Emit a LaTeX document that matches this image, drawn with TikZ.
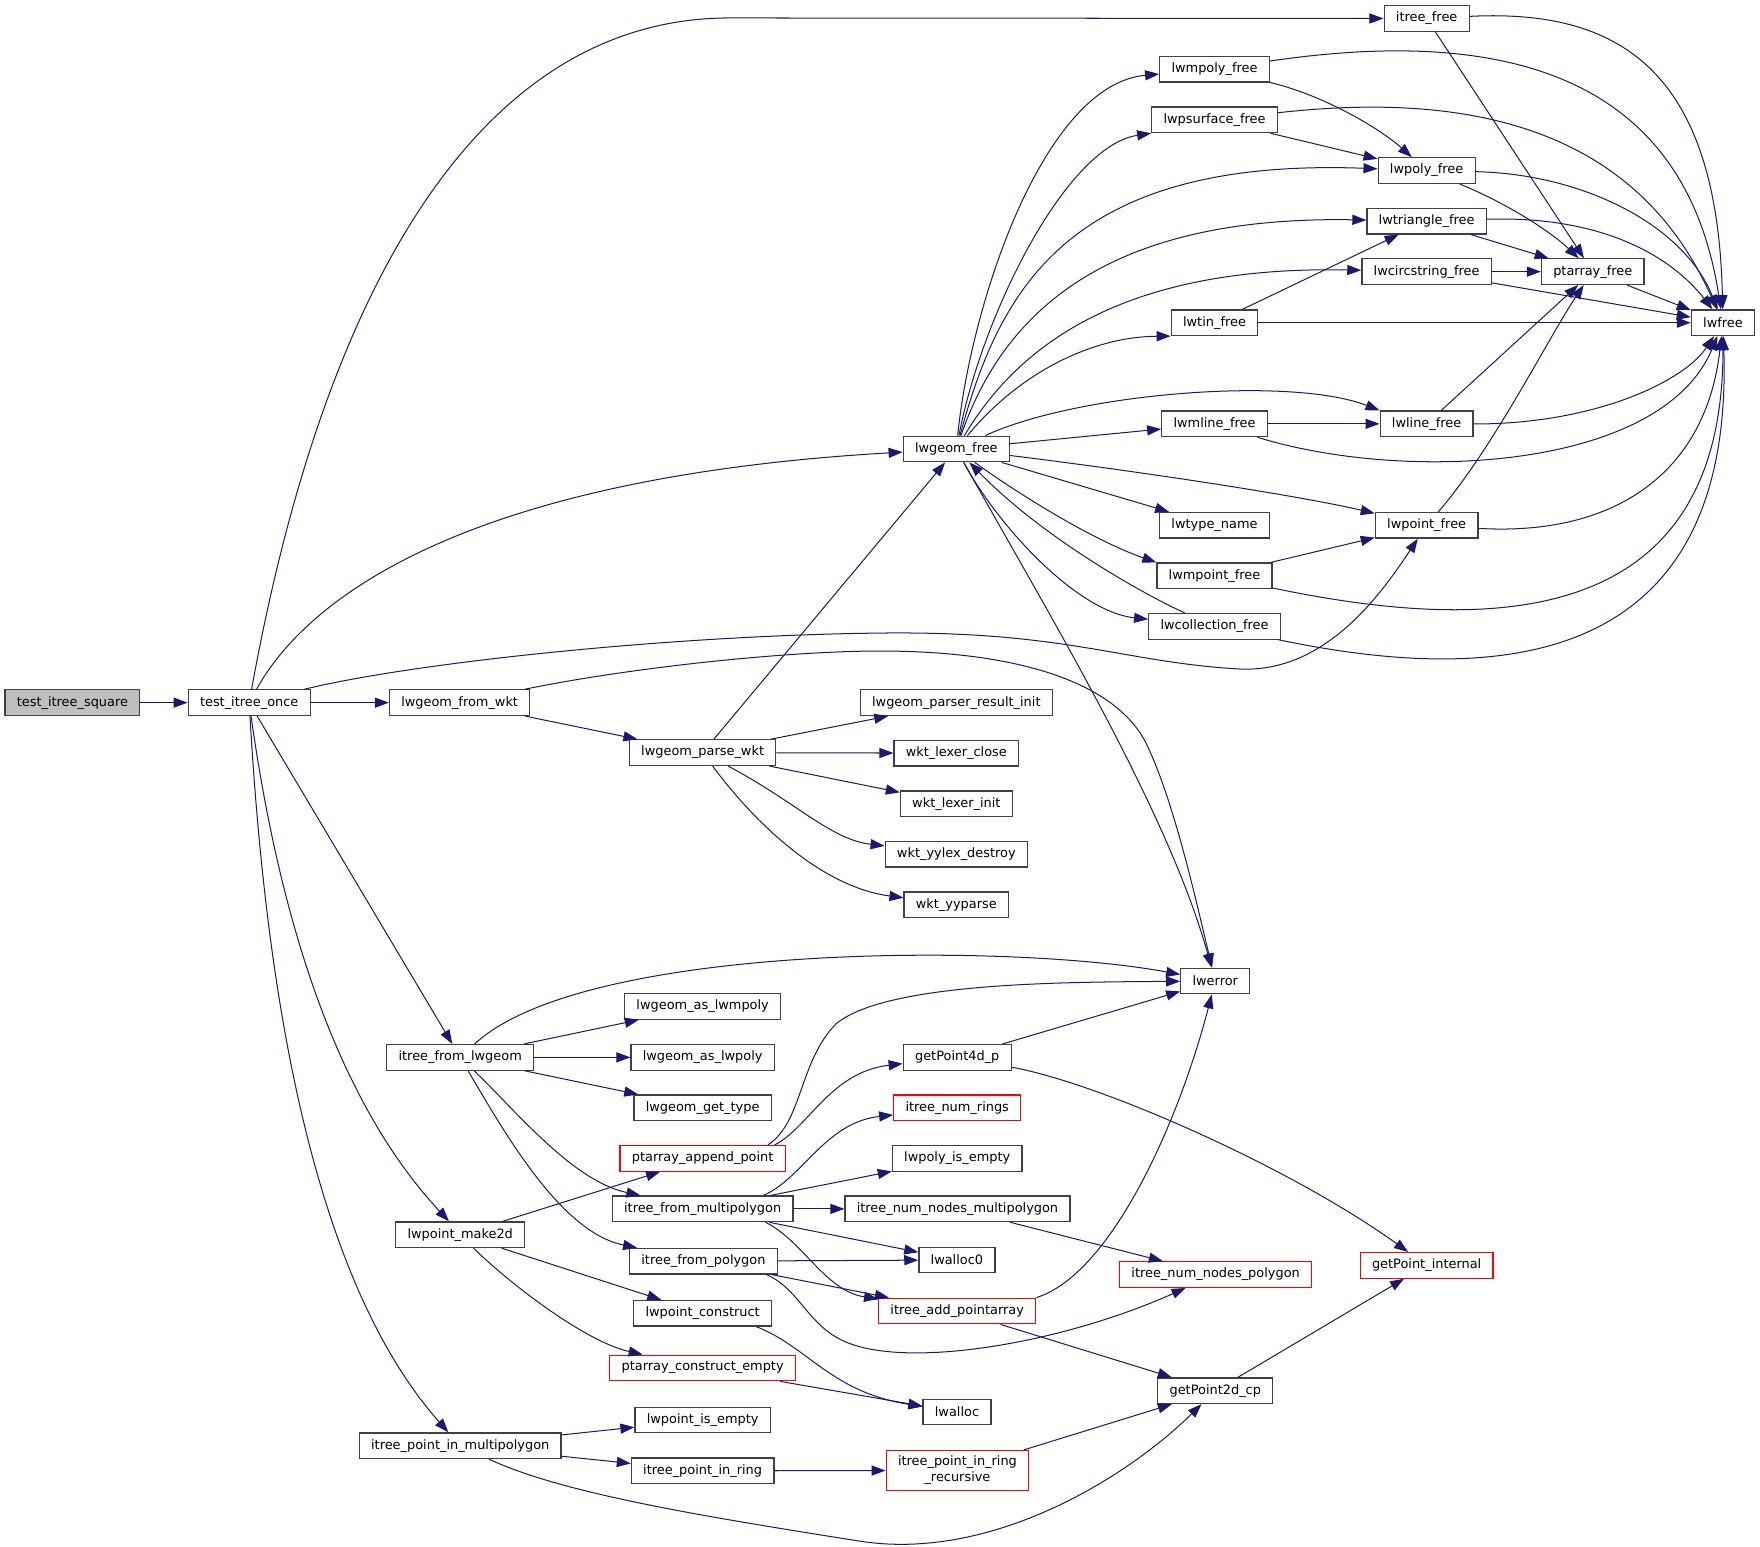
\documentclass[tikz,border=0pt]{standalone}
\usepackage{fontspec}
\setmainfont{DejaVu Sans}
\usetikzlibrary{arrows.meta}
\definecolor{edgeblue}{HTML}{191970}
\definecolor{rootgray}{HTML}{BFBFBF}
\definecolor{framegray}{HTML}{404040}
\begin{document}
\begin{tikzpicture}[x=1pt, y=-1pt,
  box/.style={draw=framegray, line width=1.1pt, fill=white, minimum height=22.8pt, inner xsep=10.5pt, inner ysep=0pt, font=\fontsize{11.5}{14}\selectfont},
  redbox/.style={box, draw=red},
  edge/.style={edgeblue, line width=0.9pt, -{Triangle[length=12.5pt, width=9pt]}}]
\useasboundingbox (0,0) rectangle (1568,1378);

\node[box, fill=rootgray] (square) at (64.5,626) {test\_itree\_square};
\node[box] (once) at (222,626) {test\_itree\_once};
\node[box] (fromwkt) at (409.5,626) {lwgeom\_from\_wkt};
\node[box] (parsewkt) at (626,670.5) {lwgeom\_parse\_wkt};
\node[box] (resultinit) at (852,626) {lwgeom\_parser\_result\_init};
\node[box] (lexerclose) at (852,671) {wkt\_lexer\_close};
\node[box] (lexerinit) at (852,716) {wkt\_lexer\_init};
\node[box] (yylexdestroy) at (852,761) {wkt\_yylex\_destroy};
\node[box] (yyparse) at (852,806) {wkt\_yyparse};

\node[box] (itreefree) at (1271,16.5) {itree\_free};
\node[box] (lwmpolyfree) at (1082,61.7) {lwmpoly\_free};
\node[box] (lwpsurfacefree) at (1082,106.8) {lwpsurface\_free};
\node[box] (lwpolyfree) at (1271,152) {lwpoly\_free};
\node[box] (lwtrianglefree) at (1271,197) {lwtriangle\_free};
\node[box] (lwcircstringfree) at (1271,242) {lwcircstring\_free};
\node[box] (ptarrayfree) at (1419,242) {ptarray\_free};
\node[box] (lwtinfree) at (1082,287.5) {lwtin\_free};
\node[box] (lwfree) at (1535,287.5) {lwfree};
\node[box] (lwmlinefree) at (1082,377.6) {lwmline\_free};
\node[box] (lwlinefree) at (1271,377.6) {lwline\_free};
\node[box] (lwgeomfree) at (852,400) {lwgeom\_free};
\node[box] (lwtypename) at (1082,468) {lwtype\_name};
\node[box] (lwpointfree) at (1271,468) {lwpoint\_free};
\node[box] (lwmpointfree) at (1082,513) {lwmpoint\_free};
\node[box] (lwcollectionfree) at (1082,558) {lwcollection\_free};

\node[box] (lwerror) at (1082.7,874) {lwerror};
\node[box] (fromlwgeom) at (410,942) {itree\_from\_lwgeom};
\node[box] (aslwmpoly) at (626,896.6) {lwgeom\_as\_lwmpoly};
\node[box] (aslwpoly) at (626,942) {lwgeom\_as\_lwpoly};
\node[box] (gettype) at (626,987) {lwgeom\_get\_type};
\node[box] (getpoint4d) at (852.8,942) {getPoint4d\_p};
\node[redbox] (numrings) at (852.8,987) {itree\_num\_rings};
\node[redbox] (appendpoint) at (626,1032) {ptarray\_append\_point};
\node[box] (polyisempty) at (852.8,1032) {lwpoly\_is\_empty};
\node[box] (frommulti) at (626,1077) {itree\_from\_multipolygon};
\node[box] (nodesmulti) at (853,1077) {itree\_num\_nodes\_multipolygon};
\node[box] (make2d) at (410,1100) {lwpoint\_make2d};
\node[box] (frompolygon) at (626.7,1123.6) {itree\_from\_polygon};
\node[box] (lwallocz) at (852.5,1122.5) {lwalloc0};
\node[redbox] (nodespolygon) at (1083,1135.5) {itree\_num\_nodes\_polygon};
\node[redbox] (getpointinternal) at (1271,1127.3) {getPoint\_internal};
\node[redbox] (addpointarray) at (852.8,1168) {itree\_add\_pointarray};
\node[box] (pointconstruct) at (626,1170) {lwpoint\_construct};
\node[redbox] (constructempty) at (626,1218.7) {ptarray\_construct\_empty};
\node[box] (getpoint2d) at (1082.7,1239) {getPoint2d\_cp};
\node[box] (lwalloc) at (852.6,1258) {lwalloc};
\node[box] (pointisempty) at (626,1265) {lwpoint\_is\_empty};
\node[box] (inmulti) at (410,1288) {itree\_point\_in\_multipolygon};
\node[box] (inring) at (626,1310.4) {itree\_point\_in\_ring};
\node[redbox, align=center, inner ysep=5pt] (inringrec) at (853,1310) {itree\_point\_in\_ring\\\_recursive};

\draw[edge] (square) -- (once);
\draw[edge] (once) .. controls (290,250) and (430,16) .. (650,16) -- (itreefree);
\draw[edge] (once) .. controls (275,530) and (420,425) .. (lwgeomfree);
\draw[edge] (once) -- (fromwkt);
\draw[edge] (once) .. controls (370,590) and (600,566) .. (784,564) .. controls (950,562) and (1000,590) .. (1104,596) .. controls (1180,600) and (1230,530) .. (lwpointfree);
\draw[edge] (once) -- (fromlwgeom);
\draw[edge] (once) .. controls (245,790) and (290,970) .. ([xshift=-10pt]make2d.north);
\draw[edge] (once) .. controls (235,850) and (270,1130) .. (inmulti);

\draw[edge] (fromwkt) -- (parsewkt);
\draw[edge] (fromwkt) .. controls (560,595) and (700,580) .. (784,580) .. controls (900,580) and (990,605) .. (1020,660) .. controls (1045,710) and (1065,800) .. (lwerror);
\draw[edge] (parsewkt) -- (lwgeomfree);
\draw[edge] (parsewkt) -- (resultinit);
\draw[edge] (parsewkt) -- (lexerclose);
\draw[edge] (parsewkt) -- (lexerinit);
\draw[edge] (parsewkt) .. controls (710,715) and (740,748) .. (yylexdestroy);
\draw[edge] (parsewkt) .. controls (670,730) and (730,790) .. (yyparse);

\draw[edge] (lwgeomfree) .. controls (865,270) and (930,75) .. (lwmpolyfree);
\draw[edge] (lwgeomfree) .. controls (875,280) and (950,130) .. (lwpsurfacefree.south west);
\draw[edge] (lwgeomfree) .. controls (890,260) and (950,140) .. (lwpolyfree);
\draw[edge] (lwgeomfree) .. controls (895,275) and (990,192) .. (lwtrianglefree);
\draw[edge] (lwgeomfree) .. controls (900,320) and (985,236) .. (lwcircstringfree);
\draw[edge] (lwgeomfree) .. controls (910,330) and (975,300) .. (lwtinfree.south west);
\draw[edge] (lwgeomfree) .. controls (960,350) and (1150,335) .. (lwlinefree.north west);
\draw[edge] (lwgeomfree) -- (lwmlinefree);
\draw[edge] (lwgeomfree) .. controls (1000,418) and (1150,440) .. (lwpointfree);
\draw[edge] (lwgeomfree) -- (lwtypename);
\draw[edge] (lwgeomfree) .. controls (900,435) and (970,480) .. (lwmpointfree.north west);
\draw[edge] (lwgeomfree) .. controls (890,470) and (960,545) .. (lwcollectionfree);
\draw[edge] (lwgeomfree) .. controls (930,540) and (1040,720) .. (lwerror);
\draw[edge] (lwcollectionfree) .. controls (1020,530) and (930,480) .. (lwgeomfree);

\draw[edge] (itreefree) -- (ptarrayfree);
\draw[edge] (itreefree) .. controls (1440,8) and (1530,60) .. (lwfree);
\draw[edge] (lwmpolyfree) .. controls (1330,25) and (1500,60) .. (lwfree);
\draw[edge] (lwmpolyfree) .. controls (1180,85) and (1230,115) .. (lwpolyfree);
\draw[edge] (lwpsurfacefree) .. controls (1320,80) and (1460,120) .. (lwfree);
\draw[edge] (lwpsurfacefree) -- (lwpolyfree);
\draw[edge] (lwpolyfree) .. controls (1340,180) and (1380,205) .. (ptarrayfree);
\draw[edge] (lwpolyfree) .. controls (1410,155) and (1500,200) .. (lwfree);
\draw[edge] (lwtrianglefree) -- (ptarrayfree);
\draw[edge] (lwtrianglefree) .. controls (1430,192) and (1490,230) .. (lwfree);
\draw[edge] (lwcircstringfree) -- (ptarrayfree);
\draw[edge] (lwcircstringfree) -- (lwfree);
\draw[edge] (ptarrayfree) -- (lwfree);
\draw[edge] (lwtinfree) -- (lwtrianglefree);
\draw[edge] (lwtinfree) -- (lwfree);
\draw[edge] (lwmlinefree) -- (lwlinefree);
\draw[edge] (lwmlinefree) .. controls (1250,430) and (1480,420) .. (lwfree);
\draw[edge] (lwlinefree) -- (ptarrayfree);
\draw[edge] (lwlinefree) .. controls (1420,378) and (1500,340) .. (lwfree);
\draw[edge] (lwpointfree) .. controls (1330,400) and (1380,300) .. (ptarrayfree);
\draw[edge] (lwpointfree) .. controls (1440,478) and (1520,420) .. (lwfree);
\draw[edge] (lwmpointfree) -- (lwpointfree);
\draw[edge] (lwmpointfree) .. controls (1330,565) and (1535,560) .. (lwfree);
\draw[edge] (lwcollectionfree) .. controls (1330,610) and (1545,600) .. (lwfree);

\draw[edge] (fromlwgeom) .. controls (520,840) and (900,840) .. (lwerror);
\draw[edge] (fromlwgeom) -- (aslwmpoly);
\draw[edge] (fromlwgeom) -- (aslwpoly);
\draw[edge] (fromlwgeom) -- (gettype);
\draw[edge] (fromlwgeom) .. controls (460,990) and (510,1052) .. (frommulti);
\draw[edge] (fromlwgeom) .. controls (450,1010) and (500,1098) .. (frompolygon);
\draw[edge] (make2d) -- (appendpoint);
\draw[edge] (make2d) -- (pointconstruct);
\draw[edge] (make2d) .. controls (450,1140) and (520,1195) .. (constructempty);
\draw[edge] (inmulti) -- (pointisempty);
\draw[edge] (inmulti) -- (inring);
\draw[edge] (inmulti) .. controls (500,1330) and (620,1350) .. (766,1373) .. controls (880,1391) and (1000,1320) .. (getpoint2d);

\draw[edge] ([xshift=-10pt]appendpoint.north east) .. controls (720,1005) and (740,955) .. (getpoint4d);
\draw[edge] ([xshift=-16pt]appendpoint.north east) .. controls (715,1000) and (712,945) .. (745,912) .. controls (790,875) and (950,875) .. (lwerror);
\draw[edge] (getpoint4d) -- (lwerror);
\draw[edge] (getpoint4d) .. controls (980,965) and (1150,1040) .. (getpointinternal);
\draw[edge] ([xshift=-27pt]frommulti.north east) .. controls (715,1050) and (735,1000) .. (numrings);
\draw[edge] (frommulti) -- (polyisempty);
\draw[edge] (frommulti) -- (nodesmulti);
\draw[edge] (frommulti) -- (lwallocz);
\draw[edge] ([xshift=-25pt]frommulti.south east) .. controls (715,1105) and (735,1150) .. (addpointarray);
\draw[edge] (frompolygon) -- (lwallocz);
\draw[edge] (frompolygon) -- (addpointarray);
\draw[edge] ([xshift=-10pt]frompolygon.south east) .. controls (715,1150) and (720,1185) .. (760,1198) .. controls (820,1218) and (950,1195) .. (nodespolygon);
\draw[edge] (nodesmulti) -- (nodespolygon);
\draw[edge] (addpointarray.north east) .. controls (990,1135) and (1050,1000) .. (lwerror);
\draw[edge] (addpointarray) -- (getpoint2d);
\draw[edge] ([xshift=-14pt]pointconstruct.south east) .. controls (720,1200) and (740,1240) .. (lwalloc);
\draw[edge] (constructempty) -- (lwalloc);
\draw[edge] (inring) -- (inringrec);
\draw[edge] (inringrec) -- (getpoint2d);
\draw[edge] (getpoint2d) -- (getpointinternal);
\end{tikzpicture}
\end{document}
